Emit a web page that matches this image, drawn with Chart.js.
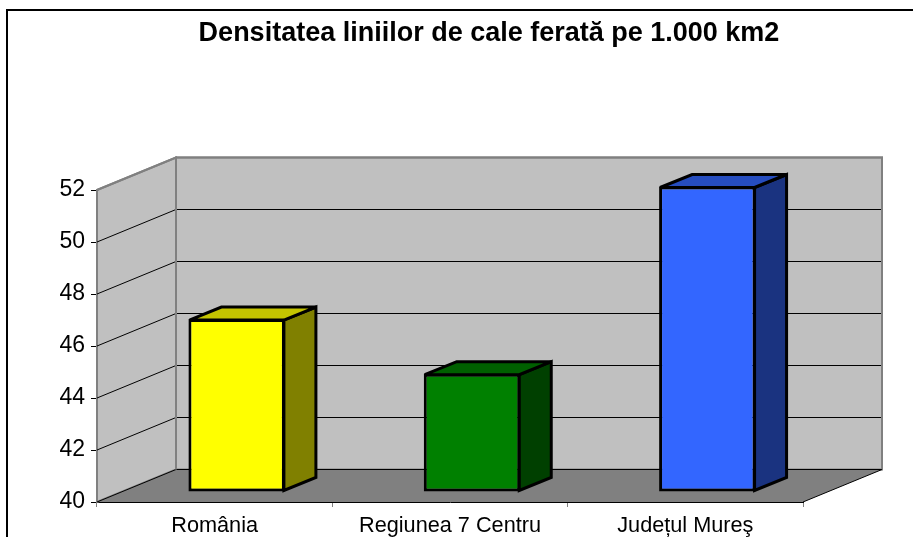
<!DOCTYPE html>
<html><head><meta charset="utf-8">
<style>html,body{margin:0;padding:0;background:#fff}#w{position:absolute;left:0;top:0;width:913px;height:537px}</style>
<script src="https://cdn.jsdelivr.net/npm/chart.js@4"></script>
</head><body><div id="w"><canvas id="c" width="913" height="537"></canvas></div>
<script>
const titleText = 'Densitatea liniilor de cale ferată pe 1.000 km2';
const categories = ['România', 'Regiunea 7 Centru', 'Județul Mureş'];
const values = [46.65, 44.55, 51.75];
const frontColors = ['#FFFF00', '#008000', '#3366FF'];
const sideColors = ['#808000', '#004000', '#1A3380'];
const topColors = ['#C4C400', '#006000', '#264DBF'];
const wallDepth = [79, -32.5];
const barShift = [22, -10];
const barDepth = [32, -13];

function poly(ctx, pts, fill, stroke, lw) {
  ctx.beginPath();
  pts.forEach((p, i) => i ? ctx.lineTo(p[0], p[1]) : ctx.moveTo(p[0], p[1]));
  ctx.closePath();
  if (fill) { ctx.fillStyle = fill; ctx.fill(); }
  if (stroke) { ctx.strokeStyle = stroke; ctx.lineWidth = lw; ctx.lineJoin = 'miter'; ctx.miterLimit = 3; ctx.stroke(); }
}

const scene = {
  id: 'scene',
  beforeDraw(chart) {
    const ctx = chart.ctx;
    ctx.save();
    ctx.fillStyle = '#fff';
    ctx.fillRect(0, 0, chart.width, chart.height);
    ctx.strokeStyle = '#000';
    ctx.lineWidth = 2;
    ctx.beginPath();
    ctx.moveTo(7, 537); ctx.lineTo(7, 10); ctx.lineTo(913, 10);
    ctx.stroke();
    ctx.restore();
  },
  beforeDatasetsDraw(chart) {
    const ctx = chart.ctx, a = chart.chartArea, y = chart.scales.y;
    const [dx, dy] = wallDepth;
    const L = a.left, R = a.right, T = a.top, B = a.bottom;
    ctx.save();
    poly(ctx, [[L, T], [L + dx, T + dy], [L + dx, B + dy], [L, B]], '#C0C0C0', '#808080', 2);
    poly(ctx, [[L + dx, T + dy], [R + dx, T + dy], [R + dx, B + dy], [L + dx, B + dy]], '#C0C0C0', '#808080', 2);
    poly(ctx, [[L, B], [L + dx, B + dy], [R + dx, B + dy], [R, B]], '#808080', null, 0);
    ctx.strokeStyle = '#000';
    ctx.lineWidth = 1;
    y.ticks.forEach(t => {
      const py = Math.round(y.getPixelForValue(t.value)) ;
      if (t.value === y.max) return;
      ctx.beginPath();
      ctx.moveTo(L, py);
      ctx.lineTo(L + dx, py + dy);
      ctx.lineTo(R + dx, py + dy);
      ctx.stroke();
    });
    ctx.strokeStyle = '#808080';
    ctx.lineWidth = 2;
    ctx.beginPath();
    ctx.moveTo(L + dx, T + dy); ctx.lineTo(L + dx, B + dy);
    ctx.moveTo(L, T); ctx.lineTo(L + dx, T + dy); ctx.lineTo(R + dx, T + dy); ctx.lineTo(R + dx, B + dy);
    ctx.stroke();
    ctx.strokeStyle = '#000';
    ctx.lineWidth = 1;
    ctx.beginPath();
    ctx.moveTo(R, B); ctx.lineTo(R + dx, B + dy);
    ctx.stroke();
    // depth faces of each bar
    const meta = chart.getDatasetMeta(0);
    const [sx, sy] = barShift, [qx, qy] = barDepth;
    meta.data.forEach((bar, i) => {
      const hw = bar.width / 2;
      const x0 = bar.x - hw + sx, x1 = bar.x + hw + sx;
      const yt = bar.y + sy, yb = bar.base + sy;
      poly(ctx, [[x1 - 1, yt + 1], [x1 - 1 + qx, yt + 1 + qy], [x1 - 1 + qx, yb - 1 + qy], [x1 - 1, yb - 1]], sideColors[i], '#000', 3);
      poly(ctx, [[x0 + 1, yt + 1], [x0 + 1 + qx, yt + 1 + qy], [x1 - 1 + qx, yt + 1 + qy], [x1 - 1, yt + 1]], topColors[i], '#000', 3);
    });
    ctx.restore();
    ctx.save();
    ctx.translate(sx, sy);
  },
  afterDatasetsDraw(chart) {
    chart.ctx.restore();
  },
  afterLayout(chart) {
    const t = chart.titleBlock;
    t.left = 489 - 300;
    t.right = 489 + 300;
  }
};

new Chart(document.getElementById('c'), {
  type: 'bar',
  data: {
    labels: categories,
    datasets: [{
      data: values,
      base: 40,
      backgroundColor: frontColors,
      borderColor: '#000',
      borderWidth: 3,
      borderSkipped: false,
      barPercentage: 0.41,
      categoryPercentage: 1,
      clip: false
    }]
  },
  plugins: [scene],
  options: {
    responsive: false,
    animation: false,
    layout: { padding: { left: 0, right: 110, top: 0, bottom: 0 } },
    plugins: {
      legend: { display: false },
      tooltip: { enabled: false },
      title: {
        display: true,
        text: titleText,
        color: '#000',
        font: { family: '"Liberation Sans", Arial, sans-serif', size: 27, weight: 'bold' },
        padding: { top: 17, bottom: 140.6 }
      }
    },
    scales: {
      x: {
        afterFit(s) { s.height = 35; },
        border: { display: true, color: '#000', width: 1 },
        grid: { display: true, drawOnChartArea: false, drawTicks: true, tickLength: 5, color: '#808080', offset: true },
        ticks: { color: '#000', padding: 6, autoSkip: false, maxRotation: 0, font: { family: '"Liberation Sans", Arial, sans-serif', size: 21.7 } }
      },
      y: {
        min: 40, max: 52,
        afterFit(s) { s.width = 97; },
        border: { display: true, color: '#808080', width: 2 },
        grid: { display: true, drawOnChartArea: false, drawTicks: true, tickLength: 6, color: '#000' },
        ticks: { color: '#000', stepSize: 2, padding: 6, font: { family: '"Liberation Sans", Arial, sans-serif', size: 23 } }
      }
    }
  }
});
</script></body></html>
